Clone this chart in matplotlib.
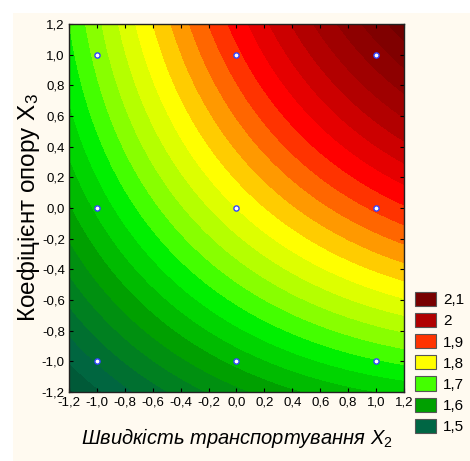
import matplotlib
matplotlib.use('Agg')
import matplotlib.pyplot as plt
import numpy as np
from matplotlib.colors import ListedColormap, BoundaryNorm
from matplotlib.patches import Patch, Rectangle

# response surface coefficients: z = b0 + b2*x2 + b3*x3 + b23*x2*x3 + b22*x2^2 + b33*x3^2
b0 = 1.80
b2 = 0.125
b3 = 0.143
b23 = 0.04
b22 = -0.02
b33 = -0.025

# design points of the experiment
design_x2 = [-1, 0, 1, -1, 0, 1, -1, 0, 1]
design_x3 = [-1, -1, -1, 0, 0, 0, 1, 1, 1]

# contour levels and band colours
levels = [1.4, 1.475, 1.5, 1.525, 1.55, 1.575, 1.6, 1.625, 1.65, 1.675, 1.7, 1.725, 1.75,
          1.775, 1.8, 1.825, 1.85, 1.875, 1.9, 1.925, 1.95, 1.975, 2.0, 2.025, 2.05, 2.075,
          2.1, 2.125, 2.2]
band_colors = ['#004d33', '#005a38', '#006640', '#007030', '#008020', '#009010', '#00a000',
               '#00bb00', '#00d500', '#00f000', '#44ff00', '#88ff00', '#b5ff00', '#ddff00',
               '#ffff00', '#ffcc00', '#ff9900', '#ff6600', '#ff3300', '#ff0000', '#e50000',
               '#cc0000', '#b20000', '#a00000', '#8e0000', '#800000', '#700000', '#660000']

legend_labels = ['2,1', '2', '1,9', '1,8', '1,7', '1,6', '1,5']
legend_colors = ['#780000', '#b00000', '#ff3300', '#ffff00', '#44ff00', '#00a000', '#006644']

ticks = [-1.2, -1.0, -0.8, -0.6, -0.4, -0.2, 0.0, 0.2, 0.4, 0.6, 0.8, 1.0, 1.2]


def fmt(v):
    return f'{v:.1f}'.replace('.', ',')


def main():
    plt.rcParams['font.family'] = ['Liberation Sans', 'DejaVu Sans']
    plt.rcParams['mathtext.fontset'] = 'custom'
    plt.rcParams['mathtext.rm'] = 'Liberation Sans'
    plt.rcParams['mathtext.it'] = 'Liberation Sans:italic'

    fig = plt.figure(figsize=(4.70, 4.61), dpi=100, facecolor='white')
    fig.patches.append(Rectangle((13 / 470, 0), 1, 1 - 13 / 461, transform=fig.transFigure,
                                 facecolor='#fffaf0', edgecolor='none', zorder=-10))

    ax = fig.add_axes([69 / 470, 1 - 392 / 461, 335 / 470, 368 / 461])

    x = np.linspace(-1.2, 1.2, 300)
    y = np.linspace(-1.2, 1.2, 300)
    X, Y = np.meshgrid(x, y)
    Z = b0 + b2 * X + b3 * Y + b23 * X * Y + b22 * X ** 2 + b33 * Y ** 2

    cmap = ListedColormap(band_colors)
    norm = BoundaryNorm(levels, cmap.N)
    ax.contourf(X, Y, Z, levels=levels, cmap=cmap, norm=norm)

    ax.scatter(design_x2, design_x3, s=14, facecolor='white', edgecolor='#3344ff',
               linewidth=1.0, zorder=5)

    ax.set_xlim(-1.2, 1.2)
    ax.set_ylim(-1.2, 1.2)
    ax.set_xticks(ticks)
    ax.set_yticks(ticks)
    ax.set_xticklabels([fmt(t) for t in ticks])
    ax.set_yticklabels([fmt(t) for t in ticks])
    tick_font = ['Liberation Sans Narrow', 'Liberation Sans']
    for lbl in ax.get_xticklabels() + ax.get_yticklabels():
        lbl.set_family(tick_font)
        lbl.set_fontsize(9.5)
    ax.tick_params(direction='in', length=3, width=0.8, top=True, right=True, pad=3)
    for s in ax.spines.values():
        s.set_linewidth(1.0)
        s.set_color('#222222')

    ax.set_xlabel('Швидкість транспортування $\\mathit{X}_2$', fontsize=14.5,
                  style='italic', labelpad=13)
    ax.set_ylabel('Коефіцієнт опору $\\mathrm{X}_3$', fontsize=17.5, labelpad=0)

    handles = [Patch(facecolor=c, edgecolor='#555555', linewidth=0.8) for c in legend_colors]
    fig.legend(handles, legend_labels, loc='upper left', bbox_to_anchor=(415 / 470, 1 - 292 / 461),
               frameon=False, fontsize=11, handlelength=1.37, handleheight=1.05,
               labelspacing=0.38, handletextpad=0.45, borderaxespad=0, borderpad=0)

    fig.savefig('out.png', dpi=100, facecolor=fig.get_facecolor())


if __name__ == '__main__':
    main()
